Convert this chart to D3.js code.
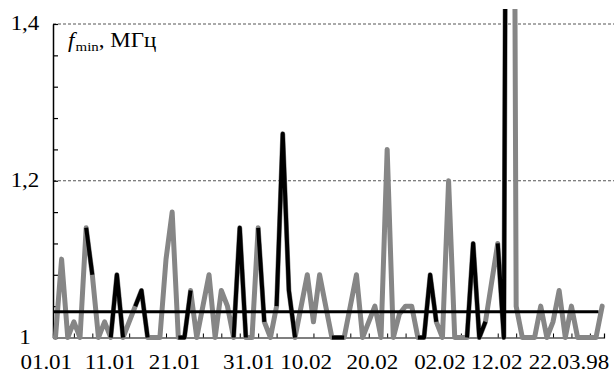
<!DOCTYPE html>
<html><head><meta charset="utf-8">
<script src="https://cdn.jsdelivr.net/npm/d3@7"></script>
<style>
body{margin:0;background:#fff}
text{font-family:"Liberation Serif","Times New Roman",serif;fill:#000}
</style>
</head><body>
<svg id="c" width="614" height="376"></svg>
<script>
// daily f_min values (MHz), 01.01 .. 31.03.98
const fmin = [
 1.00,1.10,1.00,1.02,1.00,1.14,1.08,1.00,1.02,1.00,
 1.08,1.00,1.02,1.04,1.06,1.00,1.00,1.00,1.10,1.16,
 1.00,1.00,1.06,1.00,1.04,1.08,1.00,1.06,1.04,1.00,
 1.14,1.00,1.00,1.14,1.02,1.00,1.04,1.26,1.06,1.00,
 1.04,1.08,1.02,1.08,1.04,1.00,1.00,1.00,1.04,1.08,
 1.00,1.02,1.04,1.00,1.24,1.00,1.03,1.04,1.04,1.00,
 1.00,1.08,1.02,1.00,1.20,1.00,1.00,1.00,1.12,1.00,
 1.02,1.07,1.12,1.00,3.00,1.04,1.00,1.00,1.00,1.04,
 1.00,1.02,1.06,1.00,1.04,1.00,1.00,1.00,1.00,1.04
];
// index ranges drawn in black
const blackSegments = [[5,6],[9,11],[13,15],[20,22],[29,31],[33,34],[36,39],[45,47],[59,62],[67,70],[72,74]];
const meanValue = 1.033;
const meanSpan = [-0.4, 88.4];
const yTicks = [1.00,1.04,1.08,1.12,1.16,1.20,1.24,1.28,1.32,1.36,1.40];
const yLabelValues = [1.0, 1.2, 1.4];
const yLabelTexts = ["1", "1,2", "1,4"];
const gridValues = [1.2, 1.4];
const xTickDays = [0,3,6,9,12,15,18,21,24,27,30,33,36,39,42,45,48,51,54,57,60,63,66,69,72,75,78,81,84,87];
const xLabelTexts = ["01.01","11.01","21.01","31.01","10.02","20.02","02.02","12.02","22.03.98"];
const xLabelDays = [-1.5, 8.9, 19.4, 31.5, 40.8, 51.6, 62.6, 71.8, 83.6];

const W = 614, H = 376;
const svg = d3.select("#c");
const x = d3.scaleLinear().domain([-0.4, 89.3]).range([53, 604]);
const y = d3.scaleLinear().domain([1.0, 1.4]).range([337.5, 24]);
const sx = 1.15;

svg.append("defs").append("clipPath").attr("id","clip")
  .append("rect").attr("x", 53).attr("y", 9).attr("width", W-53).attr("height", 340);

// grid
svg.append("g").selectAll("line").data(gridValues).join("line")
  .attr("x1", x.range()[0]).attr("x2", W)
  .attr("y1", d => y(d)).attr("y2", d => y(d))
  .attr("stroke", "#555").attr("stroke-width", 1).attr("stroke-dasharray", "3,2");

// y axis
const ya = svg.append("g").attr("transform", `translate(${x.range()[0]},0)`)
  .call(d3.axisRight(y).tickValues(yTicks).tickSize(5).tickSizeOuter(0).tickFormat(""));
ya.select(".domain").attr("stroke", "#000").attr("stroke-width", 1.5);
ya.selectAll(".tick line").attr("stroke", "#000").attr("stroke-width", 1.2);

// x axis
const xa = svg.append("g").attr("transform", `translate(0,${y(1.0)})`)
  .call(d3.axisTop(x).tickValues(xTickDays).tickSize(4).tickSizeOuter(4).tickFormat(""));
xa.select(".domain").attr("stroke", "#000").attr("stroke-width", 1.2);
xa.selectAll(".tick line").attr("stroke", "#000").attr("stroke-width", 1);

const g = svg.append("g").attr("clip-path", "url(#clip)");
const line = d3.line().x(d => x(d.i)).y(d => y(d.v));
const pts = fmin.map((v,i) => ({i, v}));

g.append("path").datum(pts).attr("d", line)
  .attr("fill", "none").attr("stroke", "#868686").attr("stroke-width", 5)
  .attr("stroke-linejoin", "round").attr("stroke-linecap", "round");

g.selectAll("path.blk").data(blackSegments).join("path").attr("class","blk")
  .attr("d", s => line(pts.slice(s[0], s[1]+1)))
  .attr("fill", "none").attr("stroke", "#000").attr("stroke-width", 4)
  .attr("stroke-linejoin", "round").attr("stroke-linecap", "butt");

// mean line
svg.append("line")
  .attr("x1", x(meanSpan[0])).attr("x2", x(meanSpan[1]))
  .attr("y1", y(meanValue)).attr("y2", y(meanValue))
  .attr("stroke", "#000").attr("stroke-width", 3);

// y labels
svg.append("g").selectAll("text").data(yLabelValues).join("text")
  .attr("transform", d => `translate(25,${y(d)+6}) scale(${sx},1)`)
  .attr("text-anchor", "middle").attr("font-size", 20)
  .text((d,i) => yLabelTexts[i]);

// x labels
svg.append("g").selectAll("text").data(xLabelDays).join("text")
  .attr("transform", d => `translate(${x(d)},369) scale(${sx},1)`)
  .attr("text-anchor", "middle").attr("font-size", 20)
  .text((d,i) => xLabelTexts[i]);

// title
const t = svg.append("text").attr("transform", `translate(68,47) scale(${sx},1)`).attr("font-size", 20);
t.append("tspan").attr("font-style", "italic").text("f");
t.append("tspan").attr("font-size", 13).attr("dy", 4).attr("dx", 1).text("min");
t.append("tspan").attr("dy", -4).text(",  МГц");
</script>
</body></html>
